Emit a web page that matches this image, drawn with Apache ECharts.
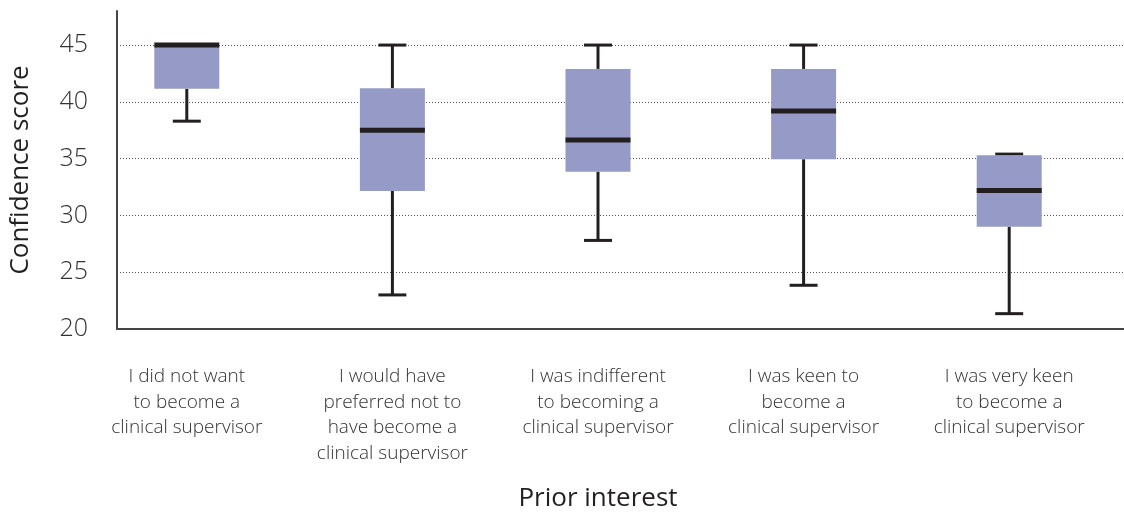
<!DOCTYPE html>
<html>
<head>
<meta charset="utf-8">
<script src="https://cdn.jsdelivr.net/npm/echarts@6/dist/echarts.min.js"></script>
<style>
  html, body { margin: 0; padding: 0; background: #fff; }
  #chart { width: 1124px; height: 512px; }
</style>
</head>
<body>
<div id="chart"></div>
<script>
// Prior interest groups (x-axis categories)
const categories = [
  'I did not want\nto become a\nclinical supervisor',
  'I would have\npreferred not to\nhave become a\nclinical supervisor',
  'I was indifferent\nto becoming a\nclinical supervisor',
  'I was keen to\nbecome a\nclinical supervisor',
  'I was very keen\nto become a\nclinical supervisor'
];

// Confidence score summaries per group
const whiskerLow = [38.3, 23.0, 27.8, 23.85, 21.35];
const quartile1  = [41.15, 32.15, 33.85, 34.95, 29.0];
const medians    = [45.0, 37.5, 36.65, 39.2, 32.2];
const quartile3  = [45.0, 41.2, 42.9, 42.9, 35.3];
const whiskerHigh = [45.0, 45.0, 45.0, 45.0, 35.4];

// Y-axis scale
const yMin = 20;
const yMax = 48;
const yStep = 5;

const FONT = '"Open Sans", "Noto Sans", sans-serif';
const INK = '#231f20';

const boxData = categories.map((c, i) => [
  i, whiskerLow[i], quartile1[i], medians[i], quartile3[i], whiskerHigh[i]
]);

const chart = echarts.init(document.getElementById('chart'), null, { renderer: 'canvas' });

const option = {
  backgroundColor: '#ffffff',
  animation: false,
  grid: [
    { left: 117, right: 0, top: 11, bottom: 183, containLabel: false, outerBoundsMode: 'none' },
    { left: 84, right: 12, top: 11, bottom: 183, containLabel: false, outerBoundsMode: 'none' }
  ],
  xAxis: [
    {
      type: 'value', gridIndex: 0, min: 0, max: 1,
      axisLine: { show: true, onZero: false, lineStyle: { color: '#444', width: 2 } },
      axisTick: { show: false }, axisLabel: { show: false }, splitLine: { show: false }
    },
    {
      type: 'category', gridIndex: 1, data: categories,
      axisLine: { show: false }, axisTick: { show: false },
      axisLabel: {
        interval: 0, margin: 35, fontFamily: FONT, fontSize: 19, fontWeight: 300,
        lineHeight: 25.5, color: '#333', align: 'center', verticalAlign: 'top'
      },
      name: 'Prior interest', nameLocation: 'middle', nameGap: 157,
      nameTextStyle: { fontFamily: FONT, fontSize: 26, color: INK }
    }
  ],
  yAxis: [
    {
      type: 'value', gridIndex: 0, min: yMin, max: yMax, interval: yStep,
      axisLine: { show: true, lineStyle: { color: '#444', width: 2 } },
      axisTick: { show: false },
      axisLabel: {
        margin: 29, fontFamily: FONT, fontSize: 25, fontWeight: 300, color: '#333',
        formatter: v => (v % yStep === 0 ? String(v) : '')
      },
      splitLine: {
        show: true,
        lineStyle: {
          color: ['#555', '#555', '#555', '#555', '#555', '#555', 'rgba(0,0,0,0)'],
          width: 1, type: [1, 2]
        }
      },
      name: 'Confidence score', nameLocation: 'middle', nameGap: 83, nameRotate: 90,
      nameTextStyle: { fontFamily: FONT, fontSize: 26, color: INK }
    },
    {
      type: 'value', gridIndex: 1, min: yMin, max: yMax, interval: yStep, show: false
    }
  ],
  series: [
    {
      type: 'custom',
      xAxisIndex: 1,
      yAxisIndex: 1,
      data: boxData,
      encode: { x: 0, y: [1, 2, 3, 4, 5] },
      renderItem: function (params, api) {
        const idx = api.value(0);
        const band = api.size([1, 0])[0];
        const boxW = band * 0.316;
        const capW = band * 0.136;
        const pLow = api.coord([idx, api.value(1)]);
        const pQ1 = api.coord([idx, api.value(2)]);
        const pMed = api.coord([idx, api.value(3)]);
        const pQ3 = api.coord([idx, api.value(4)]);
        const pHigh = api.coord([idx, api.value(5)]);
        const cx = pMed[0];
        const whisker = { stroke: INK, lineWidth: 3 };
        return {
          type: 'group',
          children: [
            { type: 'line', shape: { x1: cx, y1: pQ1[1], x2: cx, y2: pLow[1] }, style: whisker },
            { type: 'line', shape: { x1: cx, y1: pQ3[1], x2: cx, y2: pHigh[1] }, style: whisker },
            { type: 'line', shape: { x1: cx - capW / 2, y1: pLow[1], x2: cx + capW / 2, y2: pLow[1] }, style: whisker },
            { type: 'line', shape: { x1: cx - capW / 2, y1: pHigh[1], x2: cx + capW / 2, y2: pHigh[1] }, style: whisker },
            {
              type: 'rect',
              shape: { x: cx - boxW / 2, y: pQ3[1], width: boxW, height: pQ1[1] - pQ3[1] },
              style: { fill: '#959ac6' }
            },
            {
              type: 'line',
              shape: { x1: cx - boxW / 2, y1: pMed[1], x2: cx + boxW / 2, y2: pMed[1] },
              style: { stroke: INK, lineWidth: 5 }
            }
          ]
        };
      }
    }
  ]
};

chart.setOption(option);
</script>
</body>
</html>
